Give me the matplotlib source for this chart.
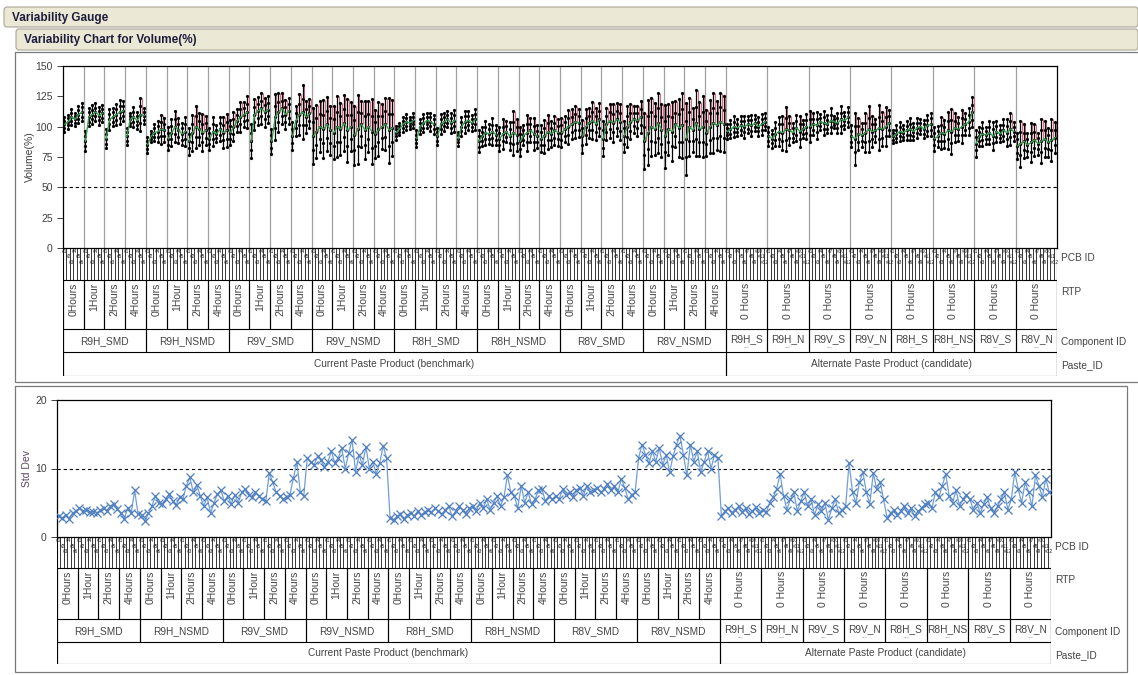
import matplotlib.pyplot as plt
from matplotlib.patches import Rectangle, FancyBboxPatch

plt.rcParams['font.family'] = ['Liberation Sans', 'DejaVu Sans']

W, H = 1138, 675

paste_names = ["Current Paste Product (benchmark)", "Alternate Paste Product (candidate)"]
current_components = ["R9H_SMD", "R9H_NSMD", "R9V_SMD", "R9V_NSMD",
                      "R8H_SMD", "R8H_NSMD", "R8V_SMD", "R8V_NSMD"]
alternate_components = ["R9H_S", "R9H_N", "R9V_S", "R9V_N",
                        "R8H_S", "R8H_NS", "R8V_S", "R8V_N"]
current_rtp = ["0Hours", "1Hour", "2Hours", "4Hours"]
alternate_rtp = ["0 Hours"]

# PCB means, 6 boards per RTP level (current paste)
current_mean = [
    [102, 104, 108, 106, 110, 112, 88, 108, 110, 112, 109, 111, 90, 106, 108, 110, 112, 113, 92, 106, 108, 105, 110, 109],
    [85, 92, 95, 96, 98, 97, 90, 95, 100, 97, 94, 96, 88, 95, 100, 98, 95, 97, 90, 96, 94, 98, 95, 97],
    [95, 100, 105, 108, 110, 112, 88, 110, 113, 115, 112, 114, 88, 108, 112, 115, 110, 113, 92, 105, 110, 112, 108, 111],
    [92, 96, 100, 98, 102, 97, 95, 100, 98, 103, 97, 100, 93, 98, 102, 97, 100, 96, 94, 98, 100, 102, 97, 99],
    [95, 98, 102, 104, 103, 105, 90, 100, 103, 105, 104, 102, 92, 102, 104, 106, 103, 105, 90, 100, 104, 105, 103, 106],
    [88, 92, 95, 94, 96, 93, 90, 94, 96, 92, 95, 93, 88, 93, 95, 97, 94, 92, 90, 92, 96, 94, 97, 95],
    [95, 98, 100, 102, 104, 103, 92, 100, 103, 105, 102, 106, 90, 102, 105, 103, 106, 104, 92, 100, 104, 106, 105, 108],
    [88, 95, 100, 98, 103, 97, 92, 98, 96, 102, 99, 101, 90, 100, 97, 103, 98, 100, 95, 100, 103, 101, 104, 102],
]

current_sd = [
    [3.0, 2.8, 3.2, 2.7, 3.5, 3.8, 4.2, 3.8, 4.0, 3.6, 3.7, 3.5, 3.9, 4.2, 3.8, 4.5, 4.8, 4.1, 3.5, 2.6, 4.3, 3.5, 6.8, 3.3],
    [3.2, 2.3, 3.5, 4.5, 6.0, 5.0, 4.8, 5.5, 6.3, 5.2, 4.6, 5.8, 5.6, 7.5, 8.7, 6.5, 7.6, 6.0, 4.5, 5.8, 3.5, 5.0, 6.3, 6.8],
    [5.2, 6.0, 4.8, 6.2, 5.0, 6.5, 7.0, 6.2, 5.8, 6.5, 6.0, 5.5, 5.2, 9.3, 8.0, 6.5, 6.0, 5.5, 5.8, 6.2, 8.6, 11.0, 6.5, 6.0],
    [11.5, 11.0, 10.5, 11.8, 11.2, 10.2, 11.0, 12.5, 10.8, 11.5, 13.0, 10.0, 12.2, 14.2, 9.5, 12.0, 10.5, 13.2, 10.0, 11.0, 9.2, 10.8, 13.3, 11.5],
    [2.8, 2.5, 3.0, 3.3, 2.6, 3.2, 3.5, 3.0, 3.8, 3.2, 3.6, 4.0, 3.6, 4.2, 3.8, 3.3, 4.0, 4.5, 3.0, 3.8, 4.5, 3.9, 3.3, 4.2],
    [4.5, 3.8, 5.0, 4.2, 5.5, 4.0, 5.0, 6.0, 4.5, 5.8, 9.0, 6.5, 6.0, 4.2, 7.5, 5.0, 6.5, 4.8, 5.5, 6.8, 7.0, 5.2, 6.0, 5.5],
    [6.0, 5.5, 7.0, 6.2, 6.5, 5.8, 6.8, 7.2, 6.0, 7.5, 6.5, 6.8, 7.2, 6.5, 7.0, 7.8, 6.8, 7.5, 6.5, 8.5, 7.2, 5.5, 6.2, 6.5],
    [11.5, 13.5, 12.0, 10.8, 12.5, 11.0, 13.0, 10.5, 12.0, 9.5, 11.8, 13.5, 14.8, 12.0, 9.0, 13.5, 11.0, 12.5, 9.5, 11.0, 12.5, 10.0, 12.0, 11.5],
]

# alternate paste: 12 boards, one RTP level
alternate_mean = [
    [96, 98, 100, 99, 101, 100, 102, 101, 103, 100, 102, 104],
    [92, 90, 94, 96, 95, 98, 97, 95, 99, 96, 98, 100],
    [100, 102, 101, 104, 103, 102, 105, 104, 103, 106, 105, 108],
    [92, 90, 94, 93, 95, 98, 96, 97, 99, 98, 100, 103],
    [92, 94, 96, 95, 97, 98, 96, 99, 100, 98, 101, 102],
    [90, 92, 95, 94, 97, 96, 99, 98, 100, 102, 104, 112],
    [86, 92, 94, 93, 95, 92, 96, 94, 97, 95, 98, 96],
    [84, 86, 88, 85, 87, 89, 86, 88, 90, 87, 89, 91],
]

alternate_sd = [
    [3.0, 3.8, 4.2, 3.5, 4.0, 4.5, 3.6, 4.2, 3.3, 3.8, 4.4, 3.5],
    [4.0, 3.6, 5.0, 5.8, 7.0, 9.2, 6.0, 4.0, 5.5, 6.5, 3.8, 5.2],
    [6.5, 4.5, 5.5, 3.2, 4.8, 3.8, 5.0, 2.5, 4.2, 5.5, 3.5, 4.0],
    [4.5, 10.8, 6.5, 5.0, 8.0, 9.5, 6.5, 4.8, 9.3, 7.0, 8.0, 5.5],
    [2.8, 3.5, 4.0, 3.2, 3.8, 4.5, 3.5, 4.2, 3.0, 3.8, 4.2, 4.8],
    [5.0, 4.2, 6.5, 5.8, 7.5, 9.2, 6.0, 5.0, 6.8, 4.5, 5.5, 6.2],
    [5.5, 4.0, 5.0, 3.5, 4.8, 5.8, 4.2, 3.5, 4.5, 5.5, 6.5, 4.0],
    [5.5, 9.5, 7.0, 5.0, 8.0, 6.5, 4.5, 9.0, 7.5, 5.8, 8.5, 6.5],
]


def box(x0, y0, x1, y1):
    return [x0 / W, 1 - y1 / H, (x1 - x0) / W, (y1 - y0) / H]


# flatten into boards with their grouping
boards = []   # (mean, sd)
rtp_cells = []   # (start, end, label)
comp_cells = []  # (start, end, label, short)
paste_cells = []
pcb_no = []
i = 0
p0 = i
for c, comp in enumerate(current_components):
    c0 = i
    for r, rtp in enumerate(current_rtp):
        r0 = i
        for k in range(6):
            boards.append((current_mean[c][r * 6 + k], current_sd[c][r * 6 + k]))
            pcb_no.append(k + 1)
            i += 1
        rtp_cells.append((r0, i, rtp))
    comp_cells.append((c0, i, comp, False))
paste_cells.append((p0, i, paste_names[0]))
p0 = i
for c, comp in enumerate(alternate_components):
    c0 = i
    for k in range(12):
        boards.append((alternate_mean[c][k], alternate_sd[c][k]))
        pcb_no.append(k + 1)
        i += 1
    rtp_cells.append((c0, i, alternate_rtp[0]))
    comp_cells.append((c0, i, comp, True))
paste_cells.append((p0, i, paste_names[1]))
N = i

fig = plt.figure(figsize=(W / 100, H / 100), dpi=100)
bg = fig.add_axes([0, 0, 1, 1])
bg.set_xlim(0, W)
bg.set_ylim(H, 0)
bg.axis('off')

# outline headers
for (x0, y0, x1, y1, txt) in [(4, 7, 1138, 27, "Variability Gauge"),
                              (16, 29, 1138, 50, "Variability Chart for Volume(%)")]:
    bg.add_patch(FancyBboxPatch((x0, y0), x1 - x0, y1 - y0, boxstyle="round,pad=0,rounding_size=3",
                                fc='#ebe8d6', ec='#a9a698', lw=0.8))
    bg.text(x0 + 8, (y0 + y1) / 2 + 0.5, txt, fontsize=8.5, fontweight='bold',
            color='#1e1e3c', va='center', ha='left')

bg.add_patch(Rectangle((15, 52), 1140, 330, fc='white', ec='#7a7a7a', lw=0.9))
bg.add_patch(Rectangle((15, 386), 1112, 286, fc='white', ec='#7a7a7a', lw=0.9))

text_col = '#444444'


def draw_table(x0, x1, rows):
    ax = fig.add_axes(box(x0, rows[0], x1, rows[-1]))
    ax.set_xlim(0, N)
    ax.set_ylim(rows[-1], rows[0])
    ax.axis('off')
    y_pcb, y_rtp, y_comp, y_paste, y_end = rows
    for y in rows[1:]:
        ax.hlines(y, 0, N, color='k', lw=0.8)
    ax.vlines([0, N], y_pcb, y_end, color='k', lw=0.8)
    ax.vlines(range(1, N), y_pcb, y_rtp, color='k', lw=0.55)
    # board ids, staggered in three tiers so they pack into the strip
    for b in range(N):
        ax.text(b + 0.5, y_pcb + 1 + 5.5 * (b % 3), f"#{pcb_no[b]}", fontsize=3.4,
                ha='center', va='top', color='#202020')
    for (a, b, lab) in rtp_cells:
        ax.vlines([a, b], y_rtp, y_comp, color='k', lw=0.8)
        ax.text((a + b) / 2, y_rtp + 3, lab, fontsize=7.5, rotation=90,
                ha='center', va='top', color=text_col)
    for (a, b, lab, short) in comp_cells:
        ax.vlines([a, b], y_comp, y_paste, color='k', lw=0.8)
        if short:
            ax.text((a + b) / 2, y_comp + 10, lab, fontsize=7.3, ha='center', va='center', color=text_col)
            ax.text((a + b) / 2, y_comp + 18, "...", fontsize=5, ha='center', va='center', color='#707070')
        else:
            ax.text((a + b) / 2, y_comp + 12, lab, fontsize=7.3, ha='center', va='center', color=text_col)
    for (a, b, lab) in paste_cells:
        ax.vlines([a, b], y_paste, y_end, color='k', lw=0.8)
        ax.text((a + b) / 2, (y_paste + y_end) / 2, lab, fontsize=7.3, ha='center', va='center', color=text_col)
    labels = ["PCB ID", "RTP", "Component ID", "Paste_ID"]
    offs = [10, 12, 13, 13]
    for lab, y, o in zip(labels, rows[:4], offs):
        bg.text(x1 + 4, y + o, lab, fontsize=7.3, ha='left', va='center', color=text_col)


def style_axis(ax):
    ax.set_xlim(0, N)
    ax.set_xticks([])
    for s in ax.spines.values():
        s.set_color('k')
        s.set_linewidth(0.9)
    ax.tick_params(axis='y', labelsize=7.5, labelcolor='#404040', length=4, width=0.7, color='#404040')


xs = [b + 0.5 for b in range(N)]
means = [m for m, s in boards]
sds = [s for m, s in boards]

# volume chart
ax1 = fig.add_axes(box(63, 66, 1057, 248))
style_axis(ax1)
ax1.set_ylim(0, 150)
ax1.set_yticks([0, 25, 50, 75, 100, 125, 150])
ax1.set_ylabel("Volume(%)", fontsize=7.5, color='#404040')
ax1.yaxis.set_label_coords(-0.028, 0.5)
for (a, b, lab) in rtp_cells[1:]:
    ax1.axvline(a, color='#a0a0a0', lw=0.9, zorder=1)
ax1.axhline(50, color='k', ls=(0, (3, 2.5)), lw=0.8, zorder=1)
for x, (m, s) in zip(xs, boards):
    lo, hi = m - 2 * s, m + 2 * s
    if s >= 6:
        ax1.vlines(x + 0.35, m, hi, color='#d46a84', lw=0.8, zorder=2)
    ax1.vlines(x - 0.1, lo, hi, color='k', lw=0.9, zorder=3)
    ax1.plot([x - 0.1] * 5, [lo, m - s, m, m + s, hi], ls='none', marker='.', ms=2.6,
             color='k', zorder=4)
for (a, b, lab) in rtp_cells:
    ax1.plot(xs[a:b], means[a:b], color='#3a9d4f', lw=1.0, zorder=5)

draw_table(63, 1057, [248, 280, 329, 352, 376])

# std dev chart
ax2 = fig.add_axes(box(57, 400, 1051, 537))
style_axis(ax2)
ax2.set_ylim(0, 20)
ax2.set_yticks([0, 10, 20])
ax2.set_ylabel("Std Dev", fontsize=7.5, color='#5a4660')
ax2.yaxis.set_label_coords(-0.025, 0.5)
ax2.axhline(10, color='k', ls=(0, (3, 2.5)), lw=0.8, zorder=1)
ax2.plot(xs, sds, color='#6f9fd4', lw=0.9, marker='x', ms=6, mec='#4f7fbf', mew=0.9, zorder=3)

draw_table(57, 1051, [537, 568, 619, 642, 664])

fig.savefig("out.png", dpi=100)
